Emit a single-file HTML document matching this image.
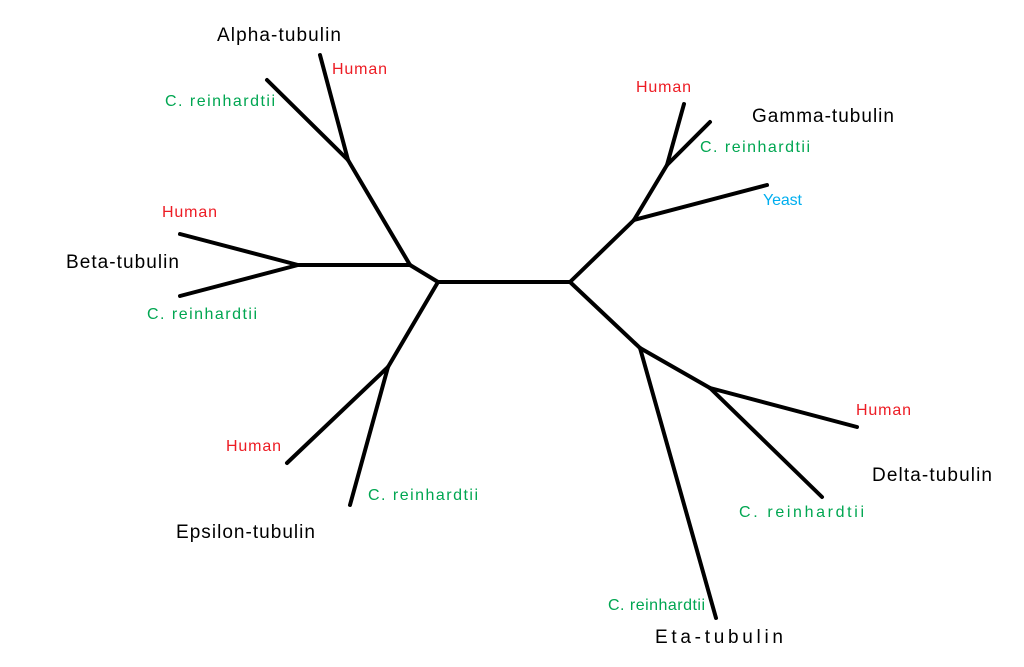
<!DOCTYPE html>
<html><head><meta charset="utf-8"><style>
html,body{margin:0;padding:0;background:#fff;}
svg{display:block;}
text{font-family:"Liberation Sans",sans-serif;}
.r{fill:#ed1c24;font-size:16px;}
.g{fill:#00a651;font-size:16px;}
.b{fill:#00aeef;font-size:16px;}
.k{fill:#000;font-size:19px;}
</style></head><body>
<svg width="1024" height="667" viewBox="0 0 1024 667">
<g stroke="#000" stroke-width="4" stroke-linecap="round" fill="none">
<line x1="438" y1="282" x2="570" y2="282"/>
<line x1="438" y1="282" x2="410" y2="265"/>
<line x1="438" y1="282" x2="388" y2="367"/>
<line x1="410" y1="265" x2="298" y2="265"/>
<line x1="410" y1="265" x2="348" y2="160"/>
<line x1="348" y1="160" x2="320" y2="55"/>
<line x1="348" y1="160" x2="267" y2="80"/>
<line x1="298" y1="265" x2="180" y2="234"/>
<line x1="298" y1="265" x2="180" y2="296"/>
<line x1="388" y1="367" x2="287" y2="463"/>
<line x1="388" y1="367" x2="350" y2="505"/>
<line x1="570" y1="282" x2="634" y2="220"/>
<line x1="570" y1="282" x2="640" y2="348"/>
<line x1="634" y1="220" x2="767" y2="185"/>
<line x1="634" y1="220" x2="667" y2="165"/>
<line x1="667" y1="165" x2="684" y2="104"/>
<line x1="667" y1="165" x2="710" y2="122"/>
<line x1="640" y1="348" x2="710" y2="388"/>
<line x1="640" y1="348" x2="716" y2="618"/>
<line x1="710" y1="388" x2="857" y2="427"/>
<line x1="710" y1="388" x2="822" y2="497"/>
</g>
<text class="k" x="217" y="41" textLength="124">Alpha-tubulin</text>
<text class="r" x="332" y="74" textLength="55">Human</text>
<text class="g" x="165" y="106" textLength="110">C. reinhardtii</text>
<text class="r" x="162" y="217" textLength="55">Human</text>
<text class="k" x="66" y="268" textLength="113">Beta-tubulin</text>
<text class="g" x="147" y="319" textLength="110">C. reinhardtii</text>
<text class="r" x="226" y="451" textLength="55">Human</text>
<text class="g" x="368" y="500" textLength="110">C. reinhardtii</text>
<text class="k" x="176" y="538" textLength="139">Epsilon-tubulin</text>
<text class="r" x="636" y="92" textLength="55">Human</text>
<text class="k" x="752" y="122" textLength="142">Gamma-tubulin</text>
<text class="g" x="700" y="152" textLength="110">C. reinhardtii</text>
<text class="b" x="763" y="205" textLength="39">Yeast</text>
<text class="r" x="856" y="415" textLength="55">Human</text>
<text class="k" x="872" y="481" textLength="120">Delta-tubulin</text>
<text class="g" x="739" y="517" textLength="125">C. reinhardtii</text>
<text class="g" x="608" y="610" textLength="97">C. reinhardtii</text>
<text class="k" x="655" y="643" textLength="128">Eta-tubulin</text>
</svg>
</body></html>
